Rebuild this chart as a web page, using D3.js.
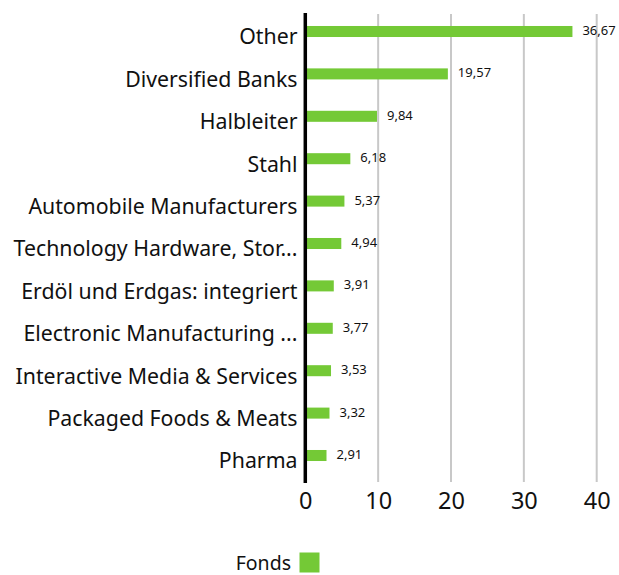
<!DOCTYPE html>
<html>
<head>
<meta charset="utf-8">
<script src="https://cdn.jsdelivr.net/npm/d3@7"></script>
<style>
  html, body { margin: 0; padding: 0; background: #fff; }
  svg { display: block; font-family: "Noto Sans", sans-serif; }
</style>
</head>
<body>
<svg id="chart" width="619" height="575"></svg>
<script>
// Sector weights of the fund (in %)
const categories = [
  "Other",
  "Diversified Banks",
  "Halbleiter",
  "Stahl",
  "Automobile Manufacturers",
  "Technology Hardware, Stor...",
  "Erdöl und Erdgas: integriert",
  "Electronic Manufacturing ...",
  "Interactive Media & Services",
  "Packaged Foods & Meats",
  "Pharma"
];
const values = [36.67, 19.57, 9.84, 6.18, 5.37, 4.94, 3.91, 3.77, 3.53, 3.32, 2.91];
const valueLabels = ["36,67", "19,57", "9,84", "6,18", "5,37", "4,94", "3,91", "3,77", "3,53", "3,32", "2,91"];
const xTicks = [0, 10, 20, 30, 40];
const seriesName = "Fonds";

const green = "#74c936";
const svg = d3.select("#chart");

const plotLeft = 305.3, plotTop = 13, plotBottom = 483;

const x = d3.scaleLinear().domain([0, 40]).range([plotLeft, plotLeft + 291.4]);
const y = d3.scaleBand().domain(categories).range([10.3, 476.7]).paddingInner(0.74).paddingOuter(0.37);
const mid = d => y(d) + y.bandwidth() / 2;

// vertical gridlines
svg.append("g")
  .selectAll("line")
  .data(xTicks.filter(t => t > 0))
  .join("line")
  .attr("x1", d => x(d)).attr("x2", d => x(d))
  .attr("y1", plotTop + 1).attr("y2", plotBottom - 1)
  .attr("stroke", "#c8c8c8").attr("stroke-width", 2);

// bars
svg.append("g")
  .selectAll("rect")
  .data(values)
  .join("rect")
  .attr("x", x(0) + 1.5)
  .attr("y", (d, i) => y(categories[i]))
  .attr("width", d => x(d) - x(0) - 1.5)
  .attr("height", y.bandwidth())
  .attr("fill", green);

// value labels
svg.append("g")
  .selectAll("text")
  .data(values)
  .join("text")
  .attr("x", d => x(d) + 10)
  .attr("y", (d, i) => mid(categories[i]) + 3.4)
  .attr("font-size", 13)
  .attr("fill", "#111")
  .text((d, i) => valueLabels[i]);

// baseline axis
svg.append("line")
  .attr("x1", x(0)).attr("x2", x(0))
  .attr("y1", plotTop).attr("y2", plotBottom)
  .attr("stroke", "#000").attr("stroke-width", 3.5);

// category labels
svg.append("g")
  .selectAll("text")
  .data(categories)
  .join("text")
  .attr("x", 297.5)
  .attr("y", d => mid(d) + 12.8)
  .attr("text-anchor", "end")
  .attr("font-size", 21.3)
  .attr("fill", "#111")
  .text(d => d);

// x axis tick labels
const xAxis = d3.axisBottom(x).tickValues(xTicks).tickSize(0).tickPadding(0).tickFormat(d3.format("d"));
const gx = svg.append("g").attr("transform", `translate(0,${plotBottom})`).call(xAxis);
gx.select(".domain").remove();
gx.selectAll("text")
  .attr("font-size", 23.5)
  .attr("font-family", "\"Noto Sans\", sans-serif")
  .attr("fill", "#111")
  .attr("dy", null)
  .attr("y", 26);

// legend
const legend = svg.append("g");
legend.append("text")
  .attr("x", 291).attr("y", 569.5)
  .attr("text-anchor", "end")
  .attr("font-size", 19.5)
  .attr("fill", "#111")
  .text(seriesName);
legend.append("rect")
  .attr("x", 299.5).attr("y", 552.5)
  .attr("width", 20).attr("height", 20)
  .attr("fill", green);
</script>
</body>
</html>
